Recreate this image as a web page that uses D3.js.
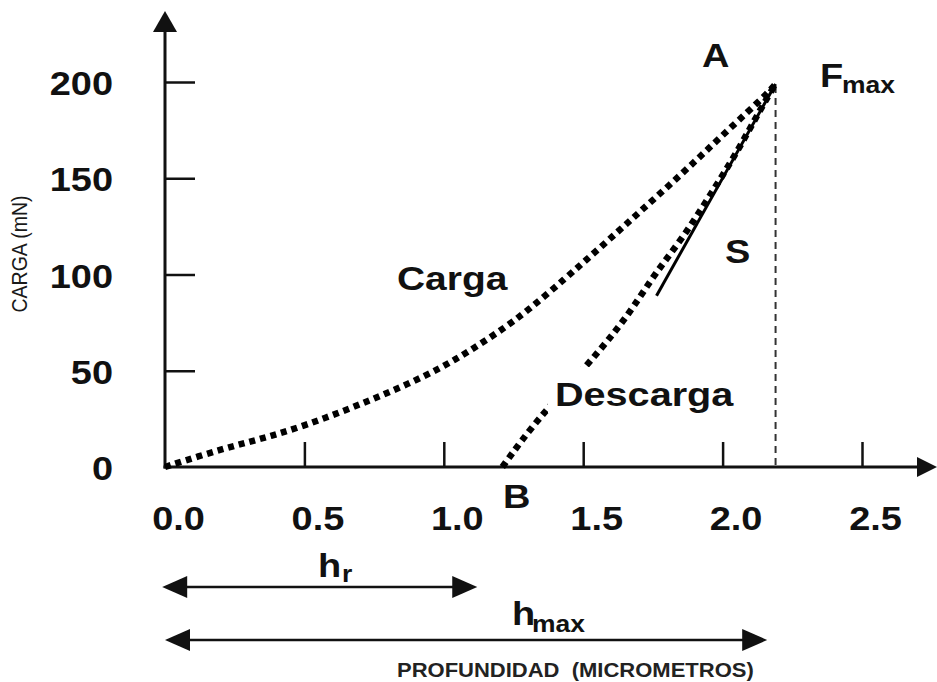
<!DOCTYPE html>
<html>
<head>
<meta charset="utf-8">
<script src="https://cdn.jsdelivr.net/npm/d3@7"></script>
<style>
  html, body { margin: 0; padding: 0; background: #fff; }
  svg { display: block; }
  text { font-family: "Liberation Sans", Arial, Helvetica, sans-serif; fill: #111; }
</style>
</head>
<body>
<svg id="chart" width="937" height="682"></svg>
<script>
// Load–depth indentation curve (Oliver–Pharr style)
const xTicks = [0, 0.5, 1.0, 1.5, 2.0, 2.5];
const yTicks = [0, 50, 100, 150, 200];

// loading branch: depth (µm) and load (mN)
const loadDepth = [0, 0.14, 0.26, 0.38, 0.50, 0.63, 0.75, 0.87, 0.99, 1.09, 1.20, 1.30, 1.44, 1.53, 1.63, 1.71, 1.81, 1.91, 1.99, 2.09, 2.16, 2.19];
const loadForce = [0, 6.5, 11.5, 16, 21.5, 28.5, 35.5, 43, 51.5, 60, 70.5, 81, 98.5, 110, 123, 133.5, 146.5, 160, 171, 184.5, 194, 199];

// unloading branch
const unloadDepth = [1.21, 1.28, 1.36, 1.53, 1.61, 1.68, 1.76, 1.86, 1.95, 2.05, 2.14, 2.19];
const unloadForce = [0, 14, 28.5, 55.5, 69.5, 83, 101, 119.5, 140, 163, 187, 199];

// contact stiffness tangent S
const stiffDepth = [1.763, 2.19];
const stiffForce = [89, 199];

const hMax = 2.19;
const fMax = 199;
const hR = 1.12;      // residual depth arrow end
const hMaxArrow = 2.16;

const svg = d3.select("#chart");
const SX = 1.15; // horizontal stretch of the lettering

const x = d3.scaleLinear().domain([0, 2.5]).range([165, 862]);
const y = d3.scaleLinear().domain([0, 200]).range([467, 82]);

// vertical dashed line at maximum depth
svg.append("line")
  .attr("x1", x(hMax)).attr("x2", x(hMax))
  .attr("y1", y(fMax) + 2).attr("y2", y(0))
  .attr("stroke", "#333").attr("stroke-width", 2)
  .attr("stroke-dasharray", "7,5");

// y axis ticks and labels
const yAxis = svg.append("g").attr("transform", "translate(165,0)")
  .call(d3.axisLeft(y).tickValues(yTicks).tickSizeInner(-30).tickSizeOuter(0).tickFormat(d3.format("d")));
yAxis.select(".domain").remove();
yAxis.selectAll(".tick line").attr("stroke", "#111").attr("stroke-width", 2.5);
yAxis.selectAll(".tick").filter(d => d === 0).select("line").remove();
yAxis.selectAll(".tick text")
  .attr("x", null).attr("dy", null)
  .attr("text-anchor", "end")
  .attr("font-size", 33).attr("font-weight", "bold")
  .attr("transform", `translate(-52,12.5) scale(${SX},1)`);

// x axis ticks and labels
const xAxis = svg.append("g").attr("transform", "translate(0,467)")
  .call(d3.axisBottom(x).tickValues(xTicks).tickSizeInner(-25).tickSizeOuter(0).tickFormat(d3.format(".1f")));
xAxis.select(".domain").remove();
xAxis.selectAll(".tick line").attr("stroke", "#111").attr("stroke-width", 2.5);
xAxis.selectAll(".tick").filter(d => d === 0).select("line").remove();
xAxis.selectAll(".tick text")
  .attr("y", null).attr("dy", null)
  .attr("text-anchor", "middle")
  .attr("font-size", 33).attr("font-weight", "bold")
  .attr("transform", `translate(13,63) scale(${SX},1)`);

// axis lines with arrowheads
svg.append("line").attr("x1", 165).attr("x2", 165).attr("y1", y(0) + 1.5).attr("y2", 30)
  .attr("stroke", "#111").attr("stroke-width", 3);
svg.append("path").attr("d", "M165,11 L153,32 L177,32 Z").attr("fill", "#111");
svg.append("line").attr("x1", 163.5).attr("x2", 920).attr("y1", y(0)).attr("y2", y(0))
  .attr("stroke", "#111").attr("stroke-width", 3);
svg.append("path").attr("d", `M937,${y(0)} L917,${y(0) - 10} L917,${y(0) + 10} Z`).attr("fill", "#111");

// curves (B-spline through the read-off points)
const line = d3.line().x(d => x(d[0])).y(d => y(d[1])).curve(d3.curveBasis);
const loadPts = loadDepth.map((h, i) => [h, loadForce[i]]);
const unloadPts = unloadDepth.map((h, i) => [h, unloadForce[i]]);

[loadPts, unloadPts].forEach(pts => {
  svg.append("path").datum(pts).attr("d", line)
    .attr("fill", "none").attr("stroke", "#000").attr("stroke-width", 6.5)
    .attr("stroke-dasharray", "6,5");
});

// stiffness tangent
svg.append("line")
  .attr("x1", x(stiffDepth[0])).attr("y1", y(stiffForce[0]))
  .attr("x2", x(stiffDepth[1])).attr("y2", y(stiffForce[1]))
  .attr("stroke", "#000").attr("stroke-width", 3);

// text helper
function label(px, py, str, size, opts = {}) {
  return svg.append("text")
    .attr("transform", `translate(${px},${py}) scale(${opts.sx || SX},1)`)
    .attr("text-anchor", opts.anchor || "start")
    .attr("font-size", size)
    .attr("font-weight", opts.weight || "bold")
    .attr("xml:space", "preserve")
    .style("white-space", "pre")
    .style("fill", opts.fill || "#111")
    .text(str);
}

// "Descarga" sits on a white patch that interrupts the unloading curve
svg.append("rect").attr("x", 548).attr("y", 367).attr("width", 192).attr("height", 46).attr("fill", "#fff");
label(555, 406, "Descarga", 33, { sx: 1.2 });
label(397, 290, "Carga", 33, { sx: 1.18 });
label(702, 67, "A", 33);
label(725, 263, "S", 33);
label(503, 508, "B", 33);
label(820, 87, "F", 33);
label(842, 93, "max", 23);

// depth arrows
function arrow(h0, h1, py) {
  const x0 = x(h0), x1 = x(h1);
  svg.append("line").attr("x1", x0 + 20).attr("x2", x1 - 20).attr("y1", py).attr("y2", py)
    .attr("stroke", "#111").attr("stroke-width", 2.5);
  svg.append("path").attr("d", `M${x0},${py} L${x0 + 25},${py - 11} L${x0 + 25},${py + 11} Z`).attr("fill", "#111");
  svg.append("path").attr("d", `M${x1},${py} L${x1 - 25},${py - 11} L${x1 - 25},${py + 11} Z`).attr("fill", "#111");
}
arrow(-0.01, hR, 587);
arrow(0, hMaxArrow, 640);

label(318, 577, "h", 33);
label(342, 582, "r", 23);
label(512, 625, "h", 33);
label(532, 632, "max", 23);

// axis titles
label(397, 677, "PROFUNDIDAD  (MICROMETROS)", 20, { sx: 1.1, fill: "#222" });
svg.append("text")
  .attr("transform", "translate(27,254) rotate(-90) scale(1,1.12)")
  .attr("text-anchor", "middle")
  .attr("font-size", 19.5)
  .style("fill", "#1a1a1a")
  .text("CARGA (mN)");
</script>
</body>
</html>
